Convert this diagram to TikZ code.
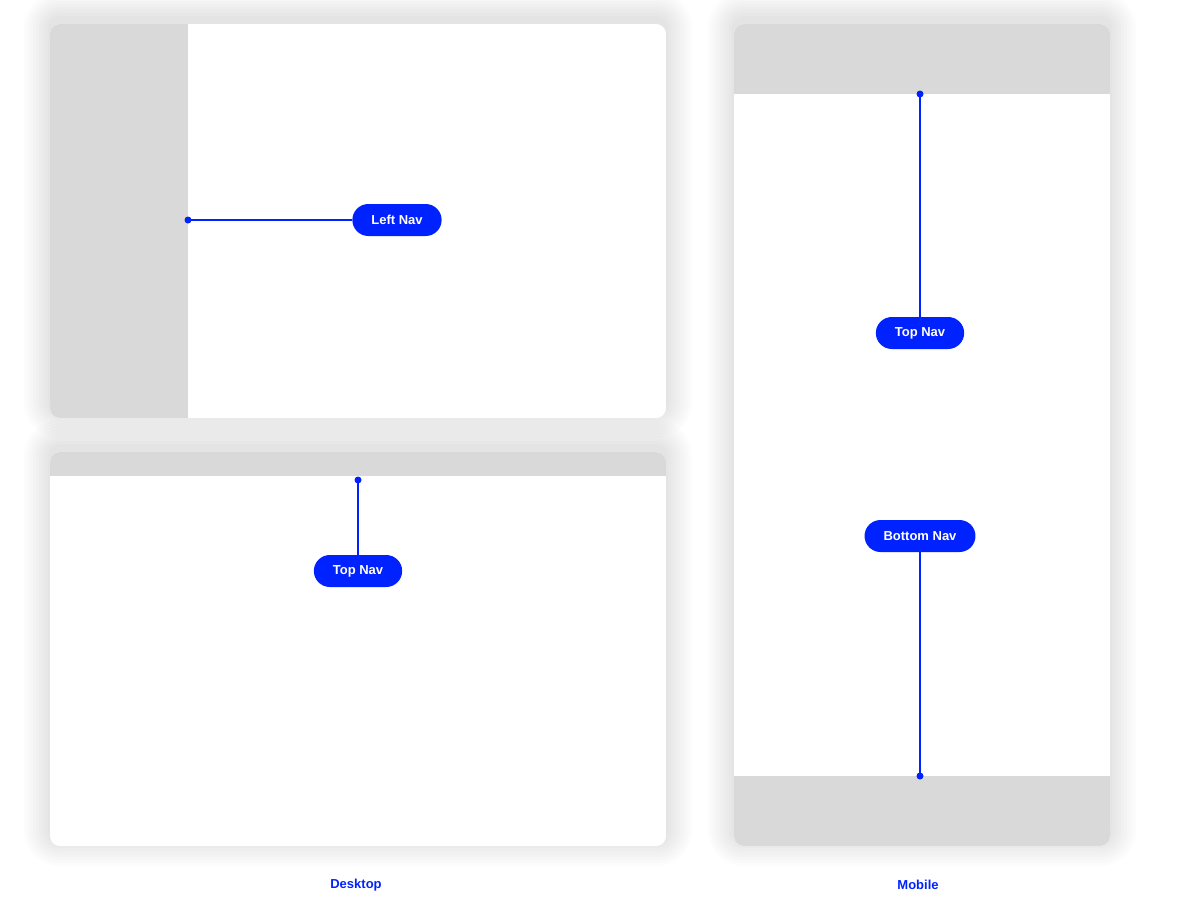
\documentclass[tikz,border=0pt]{standalone}
\usepackage{fontspec}
\setmainfont{Liberation Sans}
\definecolor{navblue}{HTML}{0022FF}
\definecolor{navgray}{HTML}{D9D9D9}
\tikzset{
    pill/.style={fill=navblue, text=white, rounded corners=16pt, minimum height=32pt,
        inner xsep=19pt, font=\bfseries\fontsize{13}{13}\selectfont},
    caption/.style={text=navblue, font=\bfseries\fontsize{13}{13}\selectfont},
    lead/.style={draw=navblue, line width=1.2pt},
}
\newcommand{\panelshadow}[4]{%
    \foreach \s in {2,5,...,26}
        \fill[black, opacity=0.012, rounded corners=10pt+\s pt]
            (#1-\s, #2-\s-6) rectangle (#3+\s, #4+\s-6);
}
\begin{document}
\begin{tikzpicture}[x=1pt, y=-1pt]
    \useasboundingbox (0,0) rectangle (1200,916);

    % desktop, left nav
    \panelshadow{50}{24}{666}{418}
    \begin{scope}
        \clip[rounded corners=10pt] (50,24) rectangle (666,418);
        \fill[white] (50,24) rectangle (666,418);
        \fill[navgray] (50,24) rectangle (188,418);
    \end{scope}
    \coordinate (lnav) at (188,220);
    \node[pill] (leftnav) at (397,220) {Left Nav};
    \draw[lead] (lnav) -- (leftnav.west);
    \fill[navblue] (lnav) circle(3.5pt);

    % desktop, top nav
    \panelshadow{50}{452}{666}{846}
    \begin{scope}
        \clip[rounded corners=10pt] (50,452) rectangle (666,846);
        \fill[white] (50,452) rectangle (666,846);
        \fill[navgray] (50,452) rectangle (666,476);
    \end{scope}
    \coordinate (dtnav) at (358,480);
    \node[pill] (dtopnav) at (358,571) {Top Nav};
    \draw[lead] (dtnav) -- (dtopnav.north);
    \fill[navblue] (dtnav) circle(3.5pt);

    % mobile
    \panelshadow{734}{24}{1110}{846}
    \begin{scope}
        \clip[rounded corners=10pt] (734,24) rectangle (1110,846);
        \fill[white] (734,24) rectangle (1110,846);
        \fill[navgray] (734,24) rectangle (1110,94);
        \fill[navgray] (734,776) rectangle (1110,846);
    \end{scope}
    \coordinate (mtnav) at (920,94);
    \coordinate (mbnav) at (920,776);
    \node[pill] (mtopnav) at (920,333) {Top Nav};
    \node[pill] (mbotnav) at (920,536) {Bottom Nav};
    \draw[lead] (mtnav) -- (mtopnav.north);
    \draw[lead] (mbotnav.south) -- (mbnav);
    \fill[navblue] (mtnav) circle(3.5pt) (mbnav) circle(3.5pt);

    \node[caption] (desktop) at (356,885) {Desktop};
    \node[caption] (mobile) at (918,885) {Mobile};
\end{tikzpicture}
\end{document}
